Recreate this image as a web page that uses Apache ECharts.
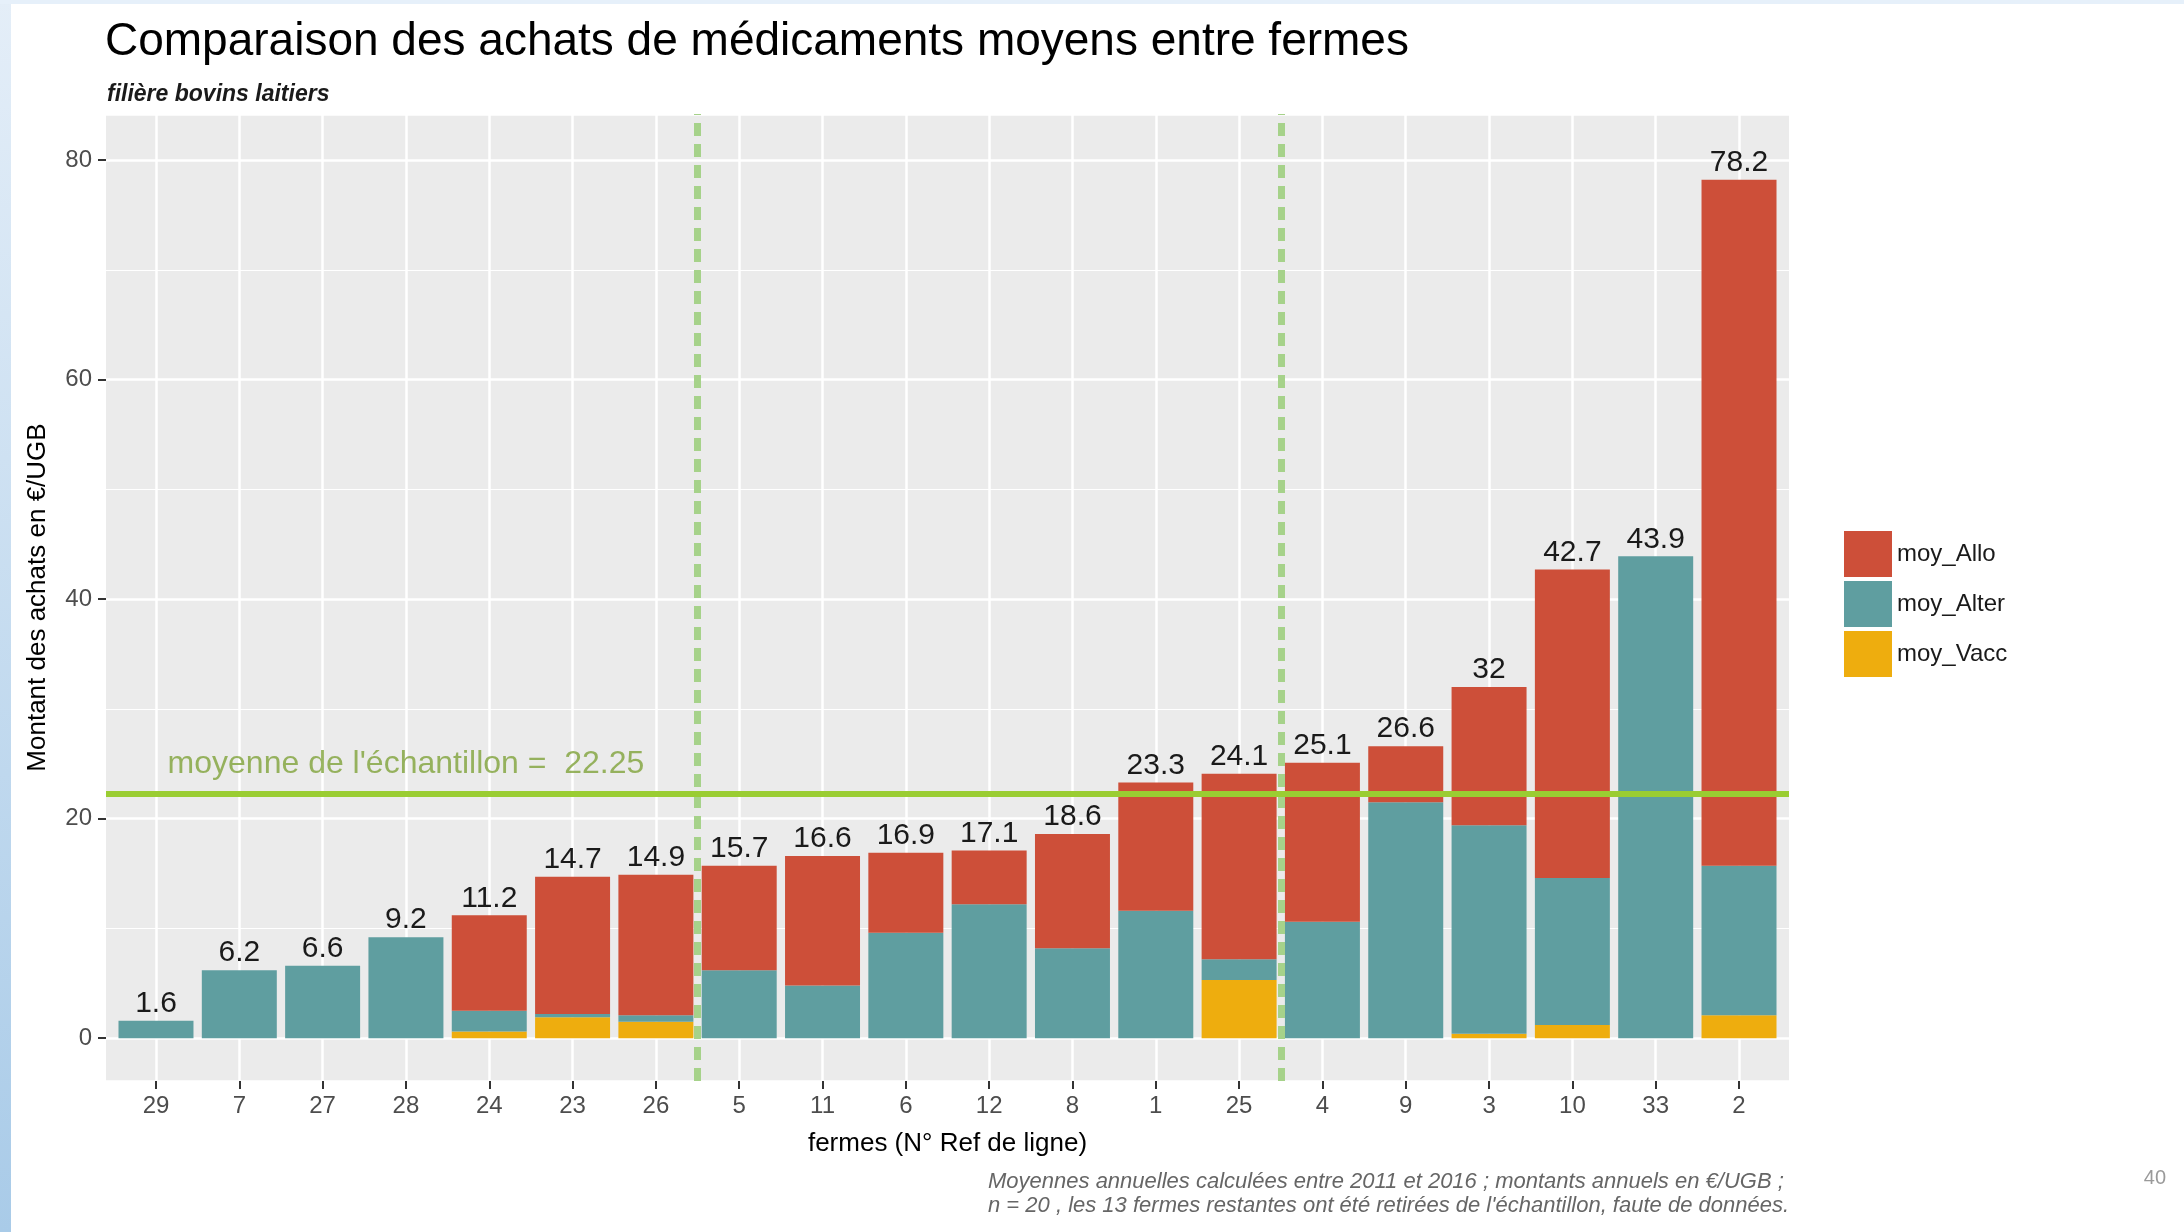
<!DOCTYPE html>
<html>
<head>
<meta charset="utf-8">
<title>Comparaison des achats de médicaments moyens entre fermes</title>
<script src="https://cdn.jsdelivr.net/npm/echarts@6/dist/echarts.min.js"></script>
<style>
  html, body { margin: 0; padding: 0; background: #fff; }
  #chart { width: 2184px; height: 1232px; }
</style>
</head>
<body>
<div id="chart"></div>
<script>
// fermes triées par montant total (€/UGB)
var farms = ['29', '7', '27', '28', '24', '23', '26', '5', '11', '6', '12', '8', '1', '25', '4', '9', '3', '10', '33', '2'];
var moyVacc = [0, 0, 0, 0, 0.6, 1.9, 1.5, 0, 0, 0, 0, 0, 0, 5.3, 0, 0, 0.4, 1.2, 0, 2.1];
var moyAlter = [1.6, 6.2, 6.6, 9.2, 1.9, 0.3, 0.6, 6.2, 4.8, 9.6, 12.2, 8.2, 11.6, 1.9, 10.6, 21.5, 19.0, 13.4, 43.9, 13.6];
var moyAllo = [0, 0, 0, 0, 8.7, 12.5, 12.8, 9.5, 11.8, 7.3, 4.9, 10.4, 11.7, 16.9, 14.5, 5.1, 12.6, 28.1, 0, 62.5];
var sampleMean = 22.25;
// dernière ferme de chaque groupe -> ligne pointillée après elle
var groupEnds = ['26', '25'];

var totals = farms.map(function (f, i) {
  return Math.round((moyVacc[i] + moyAlter[i] + moyAllo[i]) * 10) / 10;
});

var font = 'Liberation Sans';
var yMin = -3.9, yMax = 84.2;
var xPad = 0.6;

// panel (ggplot style), the data grid sits at category centers inside it
var panel = { left: 106, top: 114, width: 1683, height: 967 };
var unit = panel.width / (farms.length - 1 + 2 * xPad);

var chart = echarts.init(document.getElementById('chart'));

chart.setOption({
  animation: false,
  backgroundColor: '#fff',
  textStyle: { fontFamily: font },
  title: [
    {
      text: 'Comparaison des achats de médicaments moyens entre fermes',
      left: 100, top: 14,
      textStyle: { fontFamily: font, fontSize: 46, fontWeight: 'normal', color: '#000' }
    },
    {
      text: 'filière bovins laitiers',
      left: 102, top: 78,
      textStyle: { fontFamily: font, fontSize: 23, fontStyle: 'italic', fontWeight: 'bold', color: '#1a1a1a' }
    }
  ],
  legend: {
    data: ['moy_Allo', 'moy_Alter', 'moy_Vacc'],
    orient: 'vertical',
    left: 1839, top: 526,
    icon: 'rect',
    itemWidth: 48, itemHeight: 46, itemGap: 4,
    textStyle: { fontFamily: font, fontSize: 24, color: '#1a1a1a' },
    selectedMode: false
  },
  grid: [
    {
      left: panel.left, top: panel.top, width: panel.width, height: panel.height,
      show: true, backgroundColor: '#EBEBEB', borderWidth: 0,
      outerBoundsMode: 'none'
    },
    {
      left: panel.left + xPad * unit, top: panel.top,
      width: (farms.length - 1) * unit, height: panel.height,
      outerBoundsMode: 'none'
    }
  ],
  xAxis: [
    {
      gridIndex: 0, type: 'value', min: -xPad, max: farms.length - 1 + xPad,
      show: false, axisLine: { onZero: false }
    },
    {
      gridIndex: 1, type: 'category', data: farms, boundaryGap: false,
      name: 'fermes (N° Ref de ligne)', nameLocation: 'middle', nameGap: 50,
      nameTextStyle: { fontFamily: font, fontSize: 26, color: '#000' },
      axisLine: { show: false, onZero: false },
      axisTick: { show: true, length: 8, lineStyle: { color: '#333', width: 2 } },
      axisLabel: { fontFamily: font, fontSize: 24, color: '#4D4D4D', margin: 13 },
      splitLine: { show: true, lineStyle: { color: '#fff', width: 2.5 } }
    }
  ],
  yAxis: [
    {
      gridIndex: 0, type: 'value', min: yMin, max: yMax,
      name: 'Montant des achats en €/UGB', nameLocation: 'middle', nameGap: 55,
      nameTextStyle: { fontFamily: font, fontSize: 26, color: '#000' },
      axisLine: { show: false, onZero: false },
      axisTick: { show: true, length: 8, lineStyle: { color: '#333', width: 2 } },
      axisLabel: { fontFamily: font, fontSize: 24, color: '#4D4D4D', margin: 14, showMinLabel: false, showMaxLabel: false },
      splitLine: { show: true, lineStyle: { color: '#fff', width: 2.5 } },
      minorTick: { show: false, splitNumber: 2 },
      minorSplitLine: { show: true, lineStyle: { color: '#fff', width: 1.2 } }
    },
    {
      gridIndex: 1, type: 'value', min: yMin, max: yMax, show: false,
      axisLine: { onZero: false }
    }
  ],
  series: [
    {
      name: 'moy_Vacc', type: 'bar', stack: 'total', xAxisIndex: 1, yAxisIndex: 1,
      barWidth: '90%', clip: false, data: moyVacc,
      itemStyle: { color: '#EEAD0E' }
    },
    {
      name: 'moy_Alter', type: 'bar', stack: 'total', xAxisIndex: 1, yAxisIndex: 1,
      barWidth: '90%', clip: false, data: moyAlter,
      itemStyle: { color: '#5F9EA0' }
    },
    {
      name: 'moy_Allo', type: 'bar', stack: 'total', xAxisIndex: 1, yAxisIndex: 1,
      barWidth: '90%', clip: false, data: moyAllo,
      itemStyle: { color: '#CD4F39' },
      label: {
        show: true, position: 'top', distance: 2,
        fontFamily: font, fontSize: 30, color: '#1a1a1a',
        formatter: function (p) { return String(totals[p.dataIndex]); }
      }
    },
    {
      // moyenne de l'échantillon + séparateurs de groupes
      name: 'moyenne', type: 'line', xAxisIndex: 0, yAxisIndex: 0,
      data: [[-xPad, sampleMean], [farms.length - 1 + xPad, sampleMean]],
      symbol: 'none', silent: true, z: 5,
      lineStyle: { color: '#9ACD32', width: 6 },
      markLine: {
        silent: true, symbol: 'none',
        label: { show: false },
        lineStyle: { color: '#A6D28A', width: 7, type: [13, 8] },
        data: groupEnds.map(function (f) { return { xAxis: farms.indexOf(f) + 0.5 }; })
      }
    },
    {
      name: 'annotation', type: 'scatter', xAxisIndex: 0, yAxisIndex: 0,
      data: [[3, 25]], symbolSize: 1, silent: true, z: 5,
      itemStyle: { color: 'rgba(0,0,0,0)' },
      label: {
        show: true, position: 'inside',
        fontFamily: font, fontSize: 32, color: '#7FA23A',
        formatter: 'moyenne de l\'échantillon =  ' + sampleMean
      }
    }
  ],
  graphic: [
    {
      type: 'rect', left: 0, top: 0, z: -1, silent: true,
      shape: { width: 11, height: 1232 },
      style: {
        fill: new echarts.graphic.LinearGradient(0, 0, 0, 1, [
          { offset: 0, color: '#E4EEF8' }, { offset: 1, color: '#A9CBE8' }
        ])
      }
    },
    {
      type: 'rect', left: 0, top: 0, z: -1, silent: true,
      shape: { width: 2184, height: 4 },
      style: { fill: '#E6F0FA' }
    },
    {
      type: 'text', right: 395, top: 1170, silent: true,
      style: {
        text: 'Moyennes annuelles calculées entre 2011 et 2016 ; montants annuels en €/UGB ;\nn = 20 , les 13 fermes restantes ont été retirées de l\'échantillon, faute de données.',
        font: 'italic 22px "Liberation Sans"', fill: '#666', lineHeight: 24, align: 'right'
      }
    },
    {
      type: 'text', right: 18, top: 1168, silent: true,
      style: { text: '40', font: '20px "Liberation Sans"', fill: '#9a9a9a' }
    }
  ]
});
</script>
</body>
</html>
